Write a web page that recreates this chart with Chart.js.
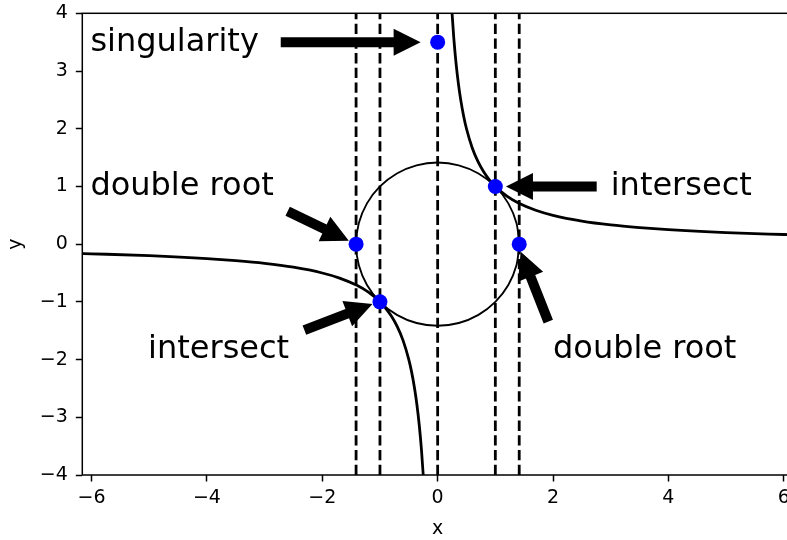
<!DOCTYPE html>
<html>
<head>
<meta charset="utf-8">
<script src="https://cdn.jsdelivr.net/npm/chart.js@4.4.1/dist/chart.umd.min.js"></script>
<style>
  html, body { margin: 0; padding: 0; background: #fff; overflow: hidden; }
  #wrap { width: 810px; height: 540px; }
</style>
</head>
<body>
<div id="wrap"><canvas id="plot" width="810" height="540"></canvas></div>
<script>
// axis ranges and tick labels
const xRange = [-6.16, 6.16];
const yRange = [-4, 4];
const xTicks = [-6, -4, -2, 0, 2, 4, 6];
const yTicks = [-4, -3, -2, -1, 0, 1, 2, 3, 4];

// dashed vertical lines at the roots / singularity
const rootX = [-1.414, -1, 0, 1, 1.414];

// y = 1/x, two branches
const hypLeftX = [-6.2, -6, -5, -4, -3.5, -3, -2.5, -2, -1.7, -1.4, -1.2, -1, -0.9, -0.8, -0.7, -0.6, -0.5, -0.45, -0.4, -0.36, -0.32, -0.28, -0.25, -0.22, -0.2];
const hypLeftY = [-0.161, -0.167, -0.2, -0.25, -0.286, -0.333, -0.4, -0.5, -0.588, -0.714, -0.833, -1, -1.111, -1.25, -1.429, -1.667, -2, -2.222, -2.5, -2.778, -3.125, -3.571, -4, -4.545, -5];
const hypRightX = [0.2, 0.22, 0.25, 0.28, 0.32, 0.36, 0.4, 0.45, 0.5, 0.6, 0.7, 0.8, 0.9, 1, 1.2, 1.4, 1.7, 2, 2.5, 3, 3.5, 4, 5, 6, 6.2];
const hypRightY = [5, 4.545, 4, 3.571, 3.125, 2.778, 2.5, 2.222, 2, 1.667, 1.429, 1.25, 1.111, 1, 0.833, 0.714, 0.588, 0.5, 0.4, 0.333, 0.286, 0.25, 0.2, 0.167, 0.161];

// circle x^2 + y^2 = 2, every 15 degrees
const circleX = [1.414, 1.366, 1.225, 1, 0.707, 0.366, 0, -0.366, -0.707, -1, -1.225, -1.366, -1.414, -1.366, -1.225, -1, -0.707, -0.366, 0, 0.366, 0.707, 1, 1.225, 1.366, 1.414];
const circleY = [0, 0.366, 0.707, 1, 1.225, 1.366, 1.414, 1.366, 1.225, 1, 0.707, 0.366, 0, -0.366, -0.707, -1, -1.225, -1.366, -1.414, -1.366, -1.225, -1, -0.707, -0.366, 0];

// highlighted points
const markX = [0, -1.414, -1, 1, 1.414];
const markY = [3.5, 0, -1, 1, 0];

// labels with arrows: text baseline position, arrow tail and tip (data units)
const notes = [
  { text: 'singularity', tx: -6.02, ty: 3.35, from: [-2.72, 3.5], to: [-0.295, 3.5] },
  { text: 'double root', tx: -6.02, ty: 0.85, from: [-2.6, 0.57], to: [-1.54, 0.06] },
  { text: 'intersect', tx: -5.02, ty: -1.98, from: [-2.31, -1.49], to: [-1.13, -1.036] },
  { text: 'intersect', tx: 3.0, ty: 0.85, from: [2.757, 1.0], to: [1.184, 1.0] },
  { text: 'double root', tx: 2.0, ty: -1.98, from: [1.918, -1.343], to: [1.439, -0.13] }
];

const pts = (xs, ys) => xs.map((x, i) => ({ x: x, y: ys[i] }));
const minus = v => (v < 0 ? '\u2212' + Math.abs(v) : String(v));

const FONT = 'DejaVu Sans';
Chart.defaults.font.family = FONT;

const datasets = [];
rootX.forEach(x => {
  datasets.push({
    data: [{ x: x, y: yRange[0] }, { x: x, y: yRange[1] }],
    showLine: true, borderColor: '#000', borderWidth: 2.8,
    borderDash: [10.3, 4.4], pointRadius: 0, clip: 0, order: 5
  });
});
datasets.push({
  data: pts(hypLeftX, hypLeftY), showLine: true, borderColor: '#000', borderWidth: 2.8,
  cubicInterpolationMode: 'monotone', pointRadius: 0, clip: 0, order: 4
});
datasets.push({
  data: pts(hypRightX, hypRightY), showLine: true, borderColor: '#000', borderWidth: 2.8,
  cubicInterpolationMode: 'monotone', pointRadius: 0, clip: 0, order: 4
});
datasets.push({
  data: pts(circleX, circleY), showLine: true, borderColor: '#000', borderWidth: 1.85,
  tension: 0.34, pointRadius: 0, clip: 0, order: 3
});
datasets.push({
  data: pts(markX, markY), showLine: false, pointRadius: 7.5, pointHoverRadius: 7.5,
  pointBackgroundColor: '#0000ff', pointBorderColor: '#0000ff', pointBorderWidth: 0, order: 1
});

// frame around the axes plus the arrow annotations
const overlay = {
  id: 'overlay',
  afterDatasetsDraw(chart) {
    const { ctx, chartArea: a, scales } = chart;
    const sx = scales.x, sy = scales.y;
    ctx.save();
    ctx.strokeStyle = '#000';
    ctx.lineWidth = 1.5;
    ctx.strokeRect(a.left, a.top, a.right - a.left, a.bottom - a.top);

    ctx.fillStyle = '#000';
    notes.forEach(n => {
      const x0 = sx.getPixelForValue(n.from[0]), y0 = sy.getPixelForValue(n.from[1]);
      const x1 = sx.getPixelForValue(n.to[0]), y1 = sy.getPixelForValue(n.to[1]);
      const len = Math.hypot(x1 - x0, y1 - y0);
      const ux = (x1 - x0) / len, uy = (y1 - y0) / len;
      const nx = -uy, ny = ux;
      const w = 5, hw = 13.5, hl = 27;
      const bx = x1 - ux * hl, by = y1 - uy * hl;
      ctx.beginPath();
      ctx.moveTo(x0 + nx * w, y0 + ny * w);
      ctx.lineTo(bx + nx * w, by + ny * w);
      ctx.lineTo(bx + nx * hw, by + ny * hw);
      ctx.lineTo(x1, y1);
      ctx.lineTo(bx - nx * hw, by - ny * hw);
      ctx.lineTo(bx - nx * w, by - ny * w);
      ctx.lineTo(x0 - nx * w, y0 - ny * w);
      ctx.closePath();
      ctx.fill();

      ctx.font = '32px "' + FONT + '"';
      ctx.textAlign = 'left';
      ctx.textBaseline = 'alphabetic';
      ctx.fillText(n.text, sx.getPixelForValue(n.tx), sy.getPixelForValue(n.ty));
    });
    ctx.restore();
  }
};

new Chart(document.getElementById('plot'), {
  type: 'scatter',
  data: { datasets: datasets },
  options: {
    responsive: false,
    animation: false,
    devicePixelRatio: 1,
    layout: { padding: { top: 13.3, right: 17, left: 0, bottom: 0 } },
    plugins: { legend: { display: false }, tooltip: { enabled: false } },
    scales: {
      x: {
        type: 'linear', min: xRange[0], max: xRange[1],
        afterBuildTicks: s => { s.ticks = xTicks.map(v => ({ value: v })); },
        afterFit: s => { s.height = 65; s.paddingLeft = 0; s.paddingRight = 0; },
        grid: { drawOnChartArea: false, drawTicks: true, tickLength: 6.5, tickWidth: 1.5, tickColor: '#000' },
        border: { display: false },
        ticks: { color: '#000', font: { size: 19 }, padding: 5.5, maxRotation: 0, autoSkip: false, callback: v => minus(v) },
        title: { display: true, text: 'x', color: '#000', font: { size: 19 }, padding: 0 }
      },
      y: {
        type: 'linear', min: yRange[0], max: yRange[1],
        afterBuildTicks: s => { s.ticks = yTicks.map(v => ({ value: v })); },
        afterFit: s => { s.width = 82.3; s.paddingTop = 0; s.paddingBottom = 0; },
        grid: { drawOnChartArea: false, drawTicks: true, tickLength: 6.5, tickWidth: 1.5, tickColor: '#000' },
        border: { display: false },
        ticks: { color: '#000', font: { size: 19 }, padding: 8, autoSkip: false, callback: v => minus(v) },
        title: { display: true, text: 'y', color: '#000', font: { size: 19 }, padding: 5 }
      }
    }
  },
  plugins: [overlay]
});
</script>
</body>
</html>
